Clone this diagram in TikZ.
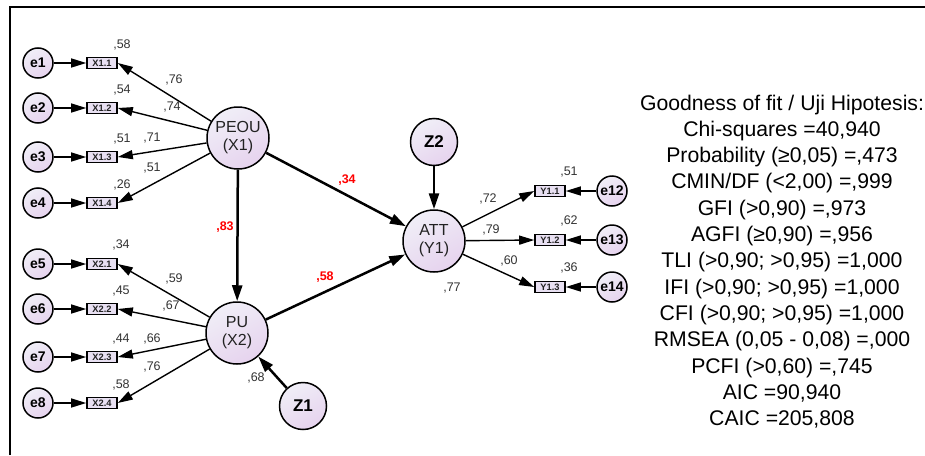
\documentclass[tikz,border=0pt]{standalone}
\usepackage{fontspec}
\setmainfont{Liberation Sans}
\usetikzlibrary{arrows.meta}
\definecolor{lavtop}{HTML}{F0EEF7}
\definecolor{lavbot}{HTML}{E6D3EE}
\definecolor{boxfill}{HTML}{E8E0F2}
\definecolor{txtgray}{HTML}{222222}
\definecolor{lblgray}{HTML}{333333}
\tikzset{
  shadedcirc/.style={circle, draw=black, line width=1.5pt, top color=lavtop, bottom color=lavbot, shading angle=30, inner sep=0pt},
  err/.style={shadedcirc, minimum size=30pt, font=\fontsize{14}{14}\selectfont\bfseries},
  lat/.style={shadedcirc, minimum size=62pt, align=center, text=txtgray, font=\fontsize{16}{18}\selectfont},
  dist/.style={shadedcirc, minimum size=47pt, font=\fontsize{17}{17}\selectfont\bfseries},
  ind/.style={rectangle, draw=black, line width=1.6pt, fill=boxfill, minimum width=30pt, minimum height=11pt, inner sep=0pt, font=\fontsize{9.3}{9.3}\selectfont\bfseries, text=txtgray},
  lbl/.style={inner sep=0pt, text=lblgray, font=\fontsize{12.5}{12.5}\selectfont},
  rlbl/.style={inner sep=0pt, text=red, font=\fontsize{12.5}{12.5}\selectfont\bfseries},
  arr/.style={line width=1.4pt, -{Triangle[length=15pt,width=9pt]}},
  sarr/.style={line width=2.5pt, -{Triangle[length=16pt,width=10pt]}},
  fitline/.style={inner sep=0pt, anchor=base, font=\fontsize{21.2}{21.2}\selectfont, text=black}
}
\begin{document}
\begin{tikzpicture}[x=1pt,y=-1pt]
\useasboundingbox (0,0) rectangle (925,455);
\draw[line width=2pt] (10,455) -- (10,7) -- (925,7);

% latent
\node[lat] (peou) at (238,138) {PEOU\\(X1)};
\node[lat] (pu) at (237,333) {PU\\(X2)};
\node[lat] (att) at (434,241) {ATT\\(Y1)};
\node[dist] (z1) at (303,406) {Z1};
\node[dist] (z2) at (434,142) {Z2};

% X1 indicators
\foreach \i/\y in {1/63,2/108,3/157,4/203}{
  \node[err] (e\i) at (38,\y) {e\i};
  \node[ind] (x1\i) at (102,\y) {X1.\i};
  \draw[arr] (e\i) -- (x1\i);
  \draw[arr] (peou) -- (x1\i.east);
}
% X2 indicators
\foreach \i/\j/\y in {1/5/264,2/6/309,3/7/357,4/8/403}{
  \node[err] (e\j) at (38,\y) {e\j};
  \node[ind] (x2\i) at (102,\y) {X2.\i};
  \draw[arr] (e\j) -- (x2\i);
  \draw[arr] (pu) -- (x2\i.east);
}
% Y1 indicators
\foreach \i/\j/\y in {1/12/191,2/13/240,3/14/287}{
  \node[err] (e\j) at (612,\y) {e\j};
  \node[ind] (y1\i) at (550,\y) {Y1.\i};
  \draw[arr] (e\j) -- (y1\i);
  \draw[arr] (att) -- (y1\i.west);
}

% structural
\draw[sarr] (peou) -- (pu);
\draw[sarr] (peou) -- (att);
\draw[sarr] (pu) -- (att);
\draw[sarr] (z1) -- (pu);
\draw[sarr] (z2) -- (att);

% loadings X1
\node[lbl] (l58a) at (122,45) {,58};
\node[lbl] (l54) at (122,90) {,54};
\node[lbl] (l51a) at (122,139) {,51};
\node[lbl] (l26) at (122,185) {,26};
\node[lbl] (l76a) at (174,80) {,76};
\node[lbl] (l74) at (172,107) {,74};
\node[lbl] (l71) at (152,138) {,71};
\node[lbl] (l51b) at (152,168) {,51};
% loadings X2
\node[lbl] (l34) at (121,245) {,34};
\node[lbl] (l45) at (121,291) {,45};
\node[lbl] (l44) at (121,339) {,44};
\node[lbl] (l58b) at (121,385) {,58};
\node[lbl] (l59) at (174,279) {,59};
\node[lbl] (l67) at (171,306) {,67};
\node[lbl] (l66) at (152,339) {,66};
\node[lbl] (l76b) at (152,367) {,76};
\node[lbl] (l68) at (256,378) {,68};
% loadings Y1
\node[lbl] (l72) at (488,199) {,72};
\node[lbl] (l79) at (491,230) {,79};
\node[lbl] (l60) at (509,261) {,60};
\node[lbl] (l77) at (452,288) {,77};
\node[lbl] (l51c) at (569,172) {,51};
\node[lbl] (l62) at (569,221) {,62};
\node[lbl] (l36) at (569,268) {,36};
% structural coefficients
\node[rlbl] (r83) at (225,227) {,83};
\node[rlbl] (r34) at (347,180) {,34};
\node[rlbl] (r58) at (325,277) {,58};

% goodness of fit
\foreach \t [count=\k from 0] in {
  {Goodness of fit / Uji Hipotesis:},
  {Chi-squares =40,940},
  {Probability (≥0,05) =,473},
  {CMIN/DF (<2,00) =,999},
  {GFI (>0,90) =,973},
  {AGFI (≥0,90) =,956},
  {TLI (>0,90; >0,95) =1,000},
  {IFI (>0,90; >0,95) =1,000},
  {CFI (>0,90; >0,95) =1,000},
  {RMSEA (0,05 - 0,08) =,000},
  {PCFI (>0,60) =,745},
  {AIC =90,940},
  {CAIC =205,808}}{
  \node[fitline] (fit\k) at (782,{110+26.3*\k}) {\t};
}
\end{tikzpicture}
\end{document}
